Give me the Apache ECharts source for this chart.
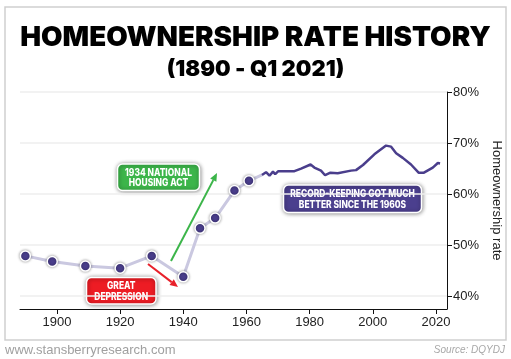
<!DOCTYPE html>
<html><head><meta charset="utf-8">
<script src="https://cdn.jsdelivr.net/npm/echarts@6/dist/echarts.min.js"></script>
<style>html,body{margin:0;padding:0;background:#fff}#c{width:511px;height:359px}</style>
</head><body><div id="c"></div>
<script>
// Census-era points (year, %)
const earlyYears = [1890, 1898.5, 1909, 1920, 1930, 1940, 1945.3, 1950.1, 1956.2, 1960.8];
const earlyRates = [47.9, 46.8, 45.9, 45.5, 47.9, 43.8, 53.3, 55.3, 60.7, 62.6];
// Modern series (year, %)
const modernYears = [1964.9, 1966.2, 1967.3, 1968.4, 1969.1, 1970.1, 1971.3, 1975.2, 1977.3, 1980.3, 1981.5, 1983.6, 1984.9, 1986.6, 1988.9, 1993.1, 1994.7, 1996.9, 2000.5, 2004.2, 2005.8, 2007.4, 2009.5, 2012.1, 2014.5, 2016.2, 2019.0, 2020.6, 2021.3];
const modernRates = [63.75, 64.3, 63.6, 64.4, 63.9, 64.5, 64.5, 64.5, 65.0, 65.8, 65.2, 64.6, 63.7, 64.2, 64.1, 64.6, 64.7, 65.7, 67.8, 69.5, 69.3, 68.0, 67.1, 65.8, 64.2, 64.2, 65.2, 66.1, 66.0];
const xTicks = [1900, 1920, 1940, 1960, 1980, 2000, 2020];
const yTicks = [40, 50, 60, 70, 80];

const earlyData = earlyYears.map((y, i) => [y, earlyRates[i]]);
earlyData.push({ value: [modernYears[0], modernRates[0]], symbol: 'none' });
const modernData = modernYears.map((y, i) => [y, modernRates[i]]);

function arrow(x1, y1, x2, y2, color) {
  const dx = x2 - x1, dy = y2 - y1, L = Math.hypot(dx, dy), ux = dx / L, uy = dy / L;
  const hl = 8, hw = 3.5;
  const bx = x2 - ux * hl, by = y2 - uy * hl;
  return [
    { type: 'line', shape: { x1, y1, x2: bx, y2: by }, style: { stroke: color, lineWidth: 2 }, z: 50 },
    { type: 'polygon', shape: { points: [[x2, y2], [bx - uy * hw, by + ux * hw], [bx + uy * hw, by - ux * hw]] }, style: { fill: color }, z: 50 }
  ];
}
function box(x, y, w, h, fill, lines) {
  return {
    type: 'group', z: 60, children: [
      { type: 'rect', shape: { x, y, width: w, height: h, r: 5 }, style: { fill, stroke: '#fff', lineWidth: 1.5, shadowBlur: 4, shadowColor: 'rgba(0,0,0,0.45)', shadowOffsetX: 0.5, shadowOffsetY: 0.5 } },
      { type: 'text', x: x + w / 2, y: y + h / 2 + 0.5, scaleX: 0.84, style: { x: 0, y: 0, text: lines.join('\n'), fill: '#fff', font: '800 10px Inter,"DejaVu Sans",sans-serif', align: 'center', verticalAlign: 'middle', lineHeight: 10.5 } }
    ]
  };
}

const chart = echarts.init(document.getElementById('c'), null, { renderer: 'canvas' });
const graphics = [
  { type: 'rect', shape: { x: 5, y: 7, width: 501, height: 333 }, style: { fill: '#fff', stroke: '#cfcfcf', lineWidth: 1.5 }, z: -10 },
  { type: 'text', style: { x: 255.5, y: 38, text: 'HOMEOWNERSHIP RATE HISTORY', fill: '#000', font: '900 27.8px Inter,"DejaVu Sans",sans-serif', align: 'center', verticalAlign: 'middle' }, z: 10 },
  { type: 'text', style: { x: 255.5, y: 69, text: '(1890 - Q1 2021)', fill: '#000', font: '900 22px Inter,"DejaVu Sans",sans-serif', align: 'center', verticalAlign: 'middle' }, z: 10 },
  { type: 'text', style: { x: 5, y: 350, text: 'www.stansberryresearch.com', fill: '#a0a0a0', font: '13px "Liberation Sans",sans-serif', align: 'left', verticalAlign: 'middle' }, z: 10 },
  { type: 'text', style: { x: 505, y: 350, text: 'Source: DQYDJ', fill: '#a8a8a8', font: 'italic 10px "Liberation Sans",sans-serif', align: 'right', verticalAlign: 'middle' }, z: 10 },
  ...arrow(171, 261, 217, 173, '#3cb54a'),
  ...arrow(148, 264, 178, 287, '#e8202a'),
  box(117.5, 164, 82, 26.5, '#3cb54a', ['1934 NATIONAL', 'HOUSING ACT']),
  box(86.5, 277.5, 69.5, 26.5, '#ed1c24', ['GREAT', 'DEPRESSION']),
  box(283.5, 185, 138, 27.5, '#4b3f8e', ['RECORD-KEEPING GOT MUCH', 'BETTER SINCE THE 1960S'])
];

chart.setOption({
  animation: false,
  backgroundColor: '#fff',
  grid: { left: 20, right: 64, top: 92, bottom: 50, containLabel: false },
  xAxis: {
    type: 'value', min: 1888.3, max: 2023.5,
    axisLine: { show: true, lineStyle: { color: '#111', width: 1 } },
    axisTick: { show: true, length: 5, lineStyle: { color: '#111' }, customValues: xTicks },
    axisLabel: { customValues: xTicks, formatter: v => String(v), color: '#222', fontSize: 13, fontFamily: 'Liberation Sans', margin: 7 },
    splitLine: { show: false }
  },
  yAxis: {
    type: 'value', position: 'right', min: 37.5, max: 80,
    name: 'Homeownership rate', nameLocation: 'middle', nameRotate: -90, nameGap: 38,
    nameTextStyle: { color: '#222', fontSize: 13, fontFamily: 'Liberation Sans' },
    axisLine: { show: true, lineStyle: { color: '#111', width: 1 } },
    axisTick: { show: true, length: 5, lineStyle: { color: '#111' }, customValues: yTicks },
    axisLabel: { customValues: yTicks, formatter: '{value}%', color: '#222', fontSize: 13, fontFamily: 'Liberation Sans', margin: 6 },
    splitLine: { show: true, lineStyle: { color: '#eeeeee', width: 1.5 } }
  },
  series: [
    {
      type: 'line', data: earlyData, z: 3,
      lineStyle: { color: '#cac8e0', width: 3 },
      symbol: 'circle', symbolSize: 10,
      itemStyle: { color: '#4a3e8c', borderColor: '#fff', borderWidth: 1.5, shadowBlur: 3, shadowColor: 'rgba(0,0,0,0.4)' }
    },
    {
      type: 'line', data: modernData, z: 4, symbol: 'none',
      lineStyle: { color: '#4a3e8c', width: 2.5 }
    }
  ],
  graphic: graphics
});
</script></body></html>
